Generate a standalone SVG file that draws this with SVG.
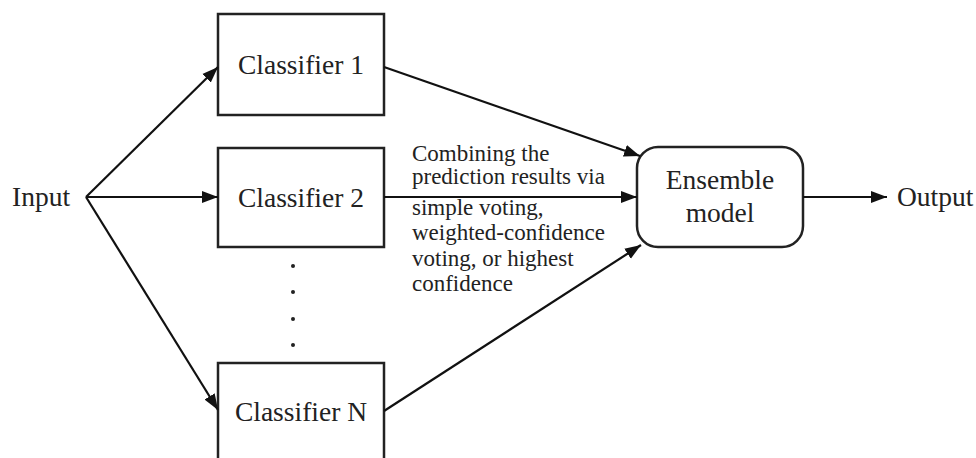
<svg xmlns="http://www.w3.org/2000/svg" width="976" height="458" viewBox="0 0 976 458">
<defs>
<marker id="ah" markerUnits="userSpaceOnUse" markerWidth="17" markerHeight="13" refX="16" refY="6.5" orient="auto">
<path d="M0,0.5 L16,6.5 L0,12.5 z" fill="#111"/>
</marker>
<style>
.box{fill:#fff;stroke:#222;stroke-width:2.5}
.t{font-family:"Liberation Serif","Times New Roman",serif;font-size:27.5px;fill:#222}
.lbl{font-family:"Liberation Serif","Times New Roman",serif;font-size:23px;fill:#222}
.c{stroke:#111;stroke-width:2.2;fill:none;marker-end:url(#ah)}
</style>
</defs>
<rect width="976" height="458" fill="#fff"/>
<g id="input"><text class="t" x="12" y="206">Input</text></g>
<g id="classifier1"><rect class="box" x="218" y="14" width="166" height="101"/><text class="t" x="301" y="74" text-anchor="middle">Classifier 1</text></g>
<g id="classifier2"><rect class="box" x="218" y="148" width="166" height="99"/><text class="t" x="301" y="207" text-anchor="middle">Classifier 2</text></g>
<g id="dots" fill="#222"><circle cx="293" cy="266" r="2"/><circle cx="293" cy="292" r="2"/><circle cx="293" cy="319" r="2"/><circle cx="293" cy="345" r="2"/></g>
<g id="classifierN"><rect class="box" x="218" y="363" width="166" height="110"/><text class="t" x="301" y="421" text-anchor="middle">Classifier N</text></g>
<g id="ensemble"><rect class="box" x="637" y="147" width="166" height="100" rx="21"/><text class="t" x="720" y="189" text-anchor="middle">Ensemble</text><text class="t" x="720" y="222" text-anchor="middle">model</text></g>
<g id="output"><text class="t" x="897" y="206">Output</text></g>
<g id="connectors">
<line class="c" x1="86" y1="197" x2="218" y2="67"/>
<line class="c" x1="86" y1="197" x2="218" y2="197"/>
<line class="c" x1="86" y1="197" x2="218" y2="410"/>
<line class="c" x1="384" y1="67" x2="640" y2="156"/>
<line class="c" x1="384" y1="197" x2="637" y2="197"/>
<line class="c" x1="384" y1="411" x2="641" y2="245"/>
<line class="c" x1="803" y1="197" x2="887" y2="197"/>
</g>
<g id="label">
<text class="lbl" x="412"><tspan x="412" y="161">Combining the</tspan><tspan x="412" y="184">prediction results via</tspan><tspan x="412" y="215">simple voting,</tspan><tspan x="412" y="240">weighted-confidence</tspan><tspan x="412" y="266">voting, or highest</tspan><tspan x="412" y="291">confidence</tspan></text>
</g>
</svg>
